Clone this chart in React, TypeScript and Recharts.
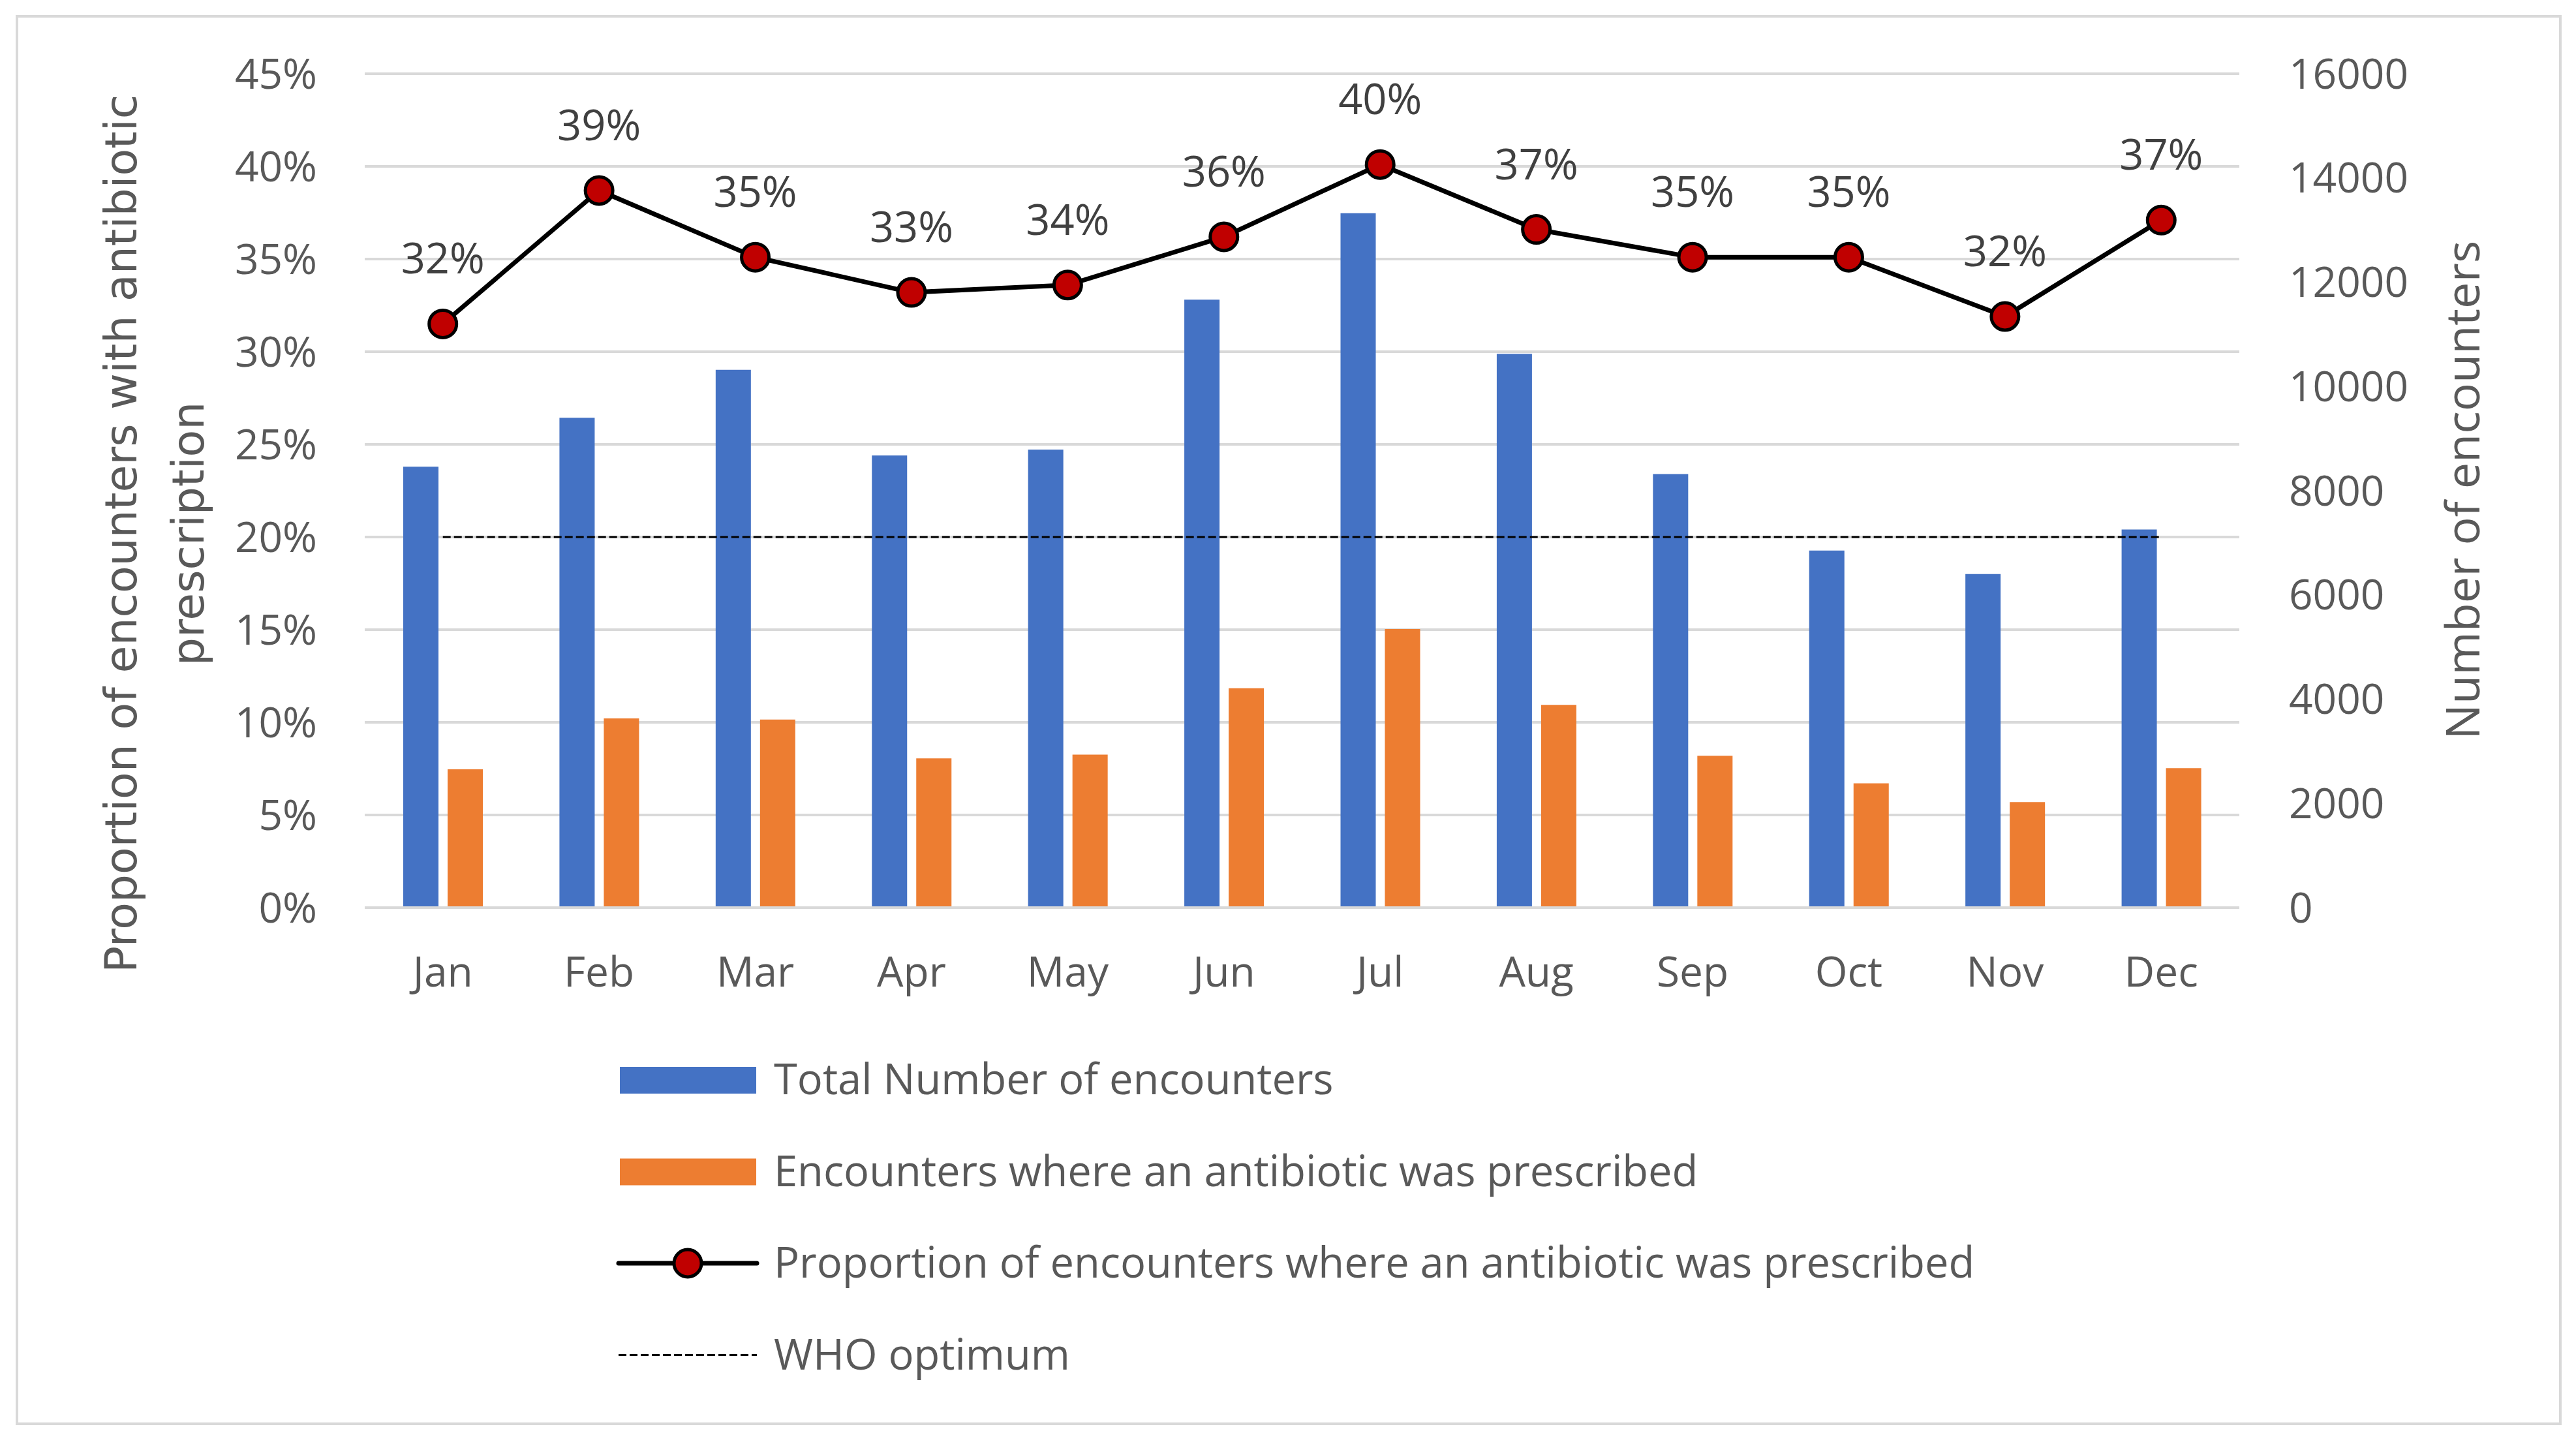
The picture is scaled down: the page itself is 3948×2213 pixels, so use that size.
import React from "react";
import {
  ComposedChart, Bar, Line, XAxis, YAxis,
  CartesianGrid, Legend, LabelList,
} from "recharts";

// Monthly values
const months = ["Jan", "Feb", "Mar", "Apr", "May", "Jun", "Jul", "Aug", "Sep", "Oct", "Nov", "Dec"];
const totalEncounters = [8460, 9400, 10320, 8675, 8790, 11665, 13325, 10625, 8320, 6850, 6400, 7255];
const antibioticEncounters = [2655, 3630, 3610, 2865, 2935, 4210, 5345, 3890, 2915, 2385, 2025, 2675];
const proportionPct = [31.5, 38.7, 35.1, 33.2, 33.6, 36.2, 40.1, 36.6, 35.1, 35.1, 31.9, 37.1];
const whoOptimumPct = [20, 20, 20, 20, 20, 20, 20, 20, 20, 20, 20, 20];

const leftTicks = [0, 5, 10, 15, 20, 25, 30, 35, 40, 45];
const rightTicks = [0, 2000, 4000, 6000, 8000, 10000, 12000, 14000, 16000];

const legendItems = [
  { name: "Total Number of encounters", kind: "bar", color: "#4472C4" },
  { name: "Encounters where an antibiotic was prescribed", kind: "bar", color: "#ED7D31" },
  { name: "Proportion of encounters where an antibiotic was prescribed", kind: "line", color: "#000000" },
  { name: "WHO optimum", kind: "dash", color: "#000000" },
];

const data = months.map((m, i) => ({
  month: m,
  total: totalEncounters[i],
  antibiotic: antibioticEncounters[i],
  pct: proportionPct[i],
  who: whoOptimumPct[i],
}));

const FONT = "'Open Sans', sans-serif";
const GREY = "#595959";
const tickStyle = { fill: GREY, fontSize: 64, fontFamily: FONT };

function ChartLegend() {
  return (
    <svg width={2400} height={580}>
      {legendItems.map((item, i) => {
        const cy = 75 + i * 140.5;
        return (
          <g key={item.name}>
            {item.kind === "bar" && (
              <rect x={10} y={cy - 20} width={209} height={41} fill={item.color} />
            )}
            {item.kind === "line" && (
              <g>
                <line x1={8} x2={220} y1={cy} y2={cy} stroke="#000" strokeWidth={7} strokeLinecap="round" />
                <circle cx={114} cy={cy} r={21} fill="#C00000" stroke="#000" strokeWidth={5} />
              </g>
            )}
            {item.kind === "dash" && (
              <line x1={8} x2={220} y1={cy} y2={cy} stroke="#000" strokeWidth={3} strokeDasharray="12 5" />
            )}
            <text x={246} y={cy + 22} fill={GREY} fontSize={65} fontFamily={FONT}>
              {item.name}
            </text>
          </g>
        );
      })}
    </svg>
  );
}

const LeftTitle = () => (
  <g fill={GREY} fontSize={68} fontFamily="'DejaVu Sans', sans-serif" textAnchor="middle">
    <text transform="translate(209, 818) rotate(-90)">Proportion of encounters with antibiotic</text>
    <text transform="translate(312, 818) rotate(-90)">prescription</text>
  </g>
);

const RightTitle = () => (
  <text
    transform="translate(3800, 751) rotate(-90)"
    fill={GREY}
    fontSize={72}
    fontFamily={FONT}
    textAnchor="middle"
  >
    Number of encounters
  </text>
);

export default function App() {
  return (
    <div style={{ position: "absolute", left: 0, top: 0, width: 3948, height: 2213, background: "#fff" }}>
      <div
        style={{
          position: "absolute", left: 24, top: 23, width: 3902, height: 2161,
          border: "4px solid #D9D9D9", boxSizing: "border-box",
        }}
      />
      <ComposedChart
        width={3948}
        height={2213}
        data={data}
        margin={{ top: 113, right: 216, bottom: 722, left: 259 }}
        barSize={54}
        barGap={14}
        style={{ position: "absolute", left: 0, top: 0 }}
      >
        <CartesianGrid yAxisId="left" vertical={false} stroke="#D9D9D9" strokeWidth={4} />
        <XAxis
          dataKey="month"
          height={100}
          tickLine={false}
          tickSize={0}
          tickMargin={76}
          axisLine={{ stroke: "#D9D9D9", strokeWidth: 4 }}
          tick={tickStyle}
          interval={0}
        />
        <YAxis
          yAxisId="left"
          width={300}
          domain={[0, 45]}
          ticks={leftTicks}
          interval={0}
          tickFormatter={(v: number) => `${v}%`}
          axisLine={false}
          tickLine={false}
          tickSize={0}
          tickMargin={73}
          tick={tickStyle}
          label={{ content: LeftTitle }}
        />
        <YAxis
          yAxisId="right"
          orientation="right"
          width={300}
          domain={[0, 16000]}
          ticks={rightTicks}
          interval={0}
          axisLine={false}
          tickLine={false}
          tickSize={0}
          tickMargin={76}
          tick={tickStyle}
          label={{ content: RightTitle }}
        />
        <Bar yAxisId="right" dataKey="total" name="Total Number of encounters" fill="#4472C4" isAnimationActive={false} />
        <Bar yAxisId="right" dataKey="antibiotic" name="Encounters where an antibiotic was prescribed" fill="#ED7D31" isAnimationActive={false} />
        <Line
          yAxisId="left"
          type="linear"
          dataKey="who"
          name="WHO optimum"
          stroke="#000"
          strokeWidth={3}
          strokeDasharray="12 5"
          dot={false}
          activeDot={false}
          isAnimationActive={false}
        />
        <Line
          yAxisId="left"
          type="linear"
          dataKey="pct"
          name="Proportion of encounters where an antibiotic was prescribed"
          stroke="#000"
          strokeWidth={7}
          dot={{ r: 21, fill: "#C00000", stroke: "#000", strokeWidth: 5 }}
          activeDot={false}
          isAnimationActive={false}
        >
          <LabelList
            dataKey="pct"
            position="top"
            offset={77}
            formatter={(v: number) => `${Math.round(v)}%`}
            style={{ fill: "#404040", fontSize: 65, fontFamily: FONT }}
          />
        </Line>
        <Legend
          layout="vertical"
          align="center"
          verticalAlign="middle"
          content={ChartLegend}
          wrapperStyle={{ position: "absolute", left: 940, top: 1580, width: 2400, height: 580 }}
        />
      </ComposedChart>
    </div>
  );
}
